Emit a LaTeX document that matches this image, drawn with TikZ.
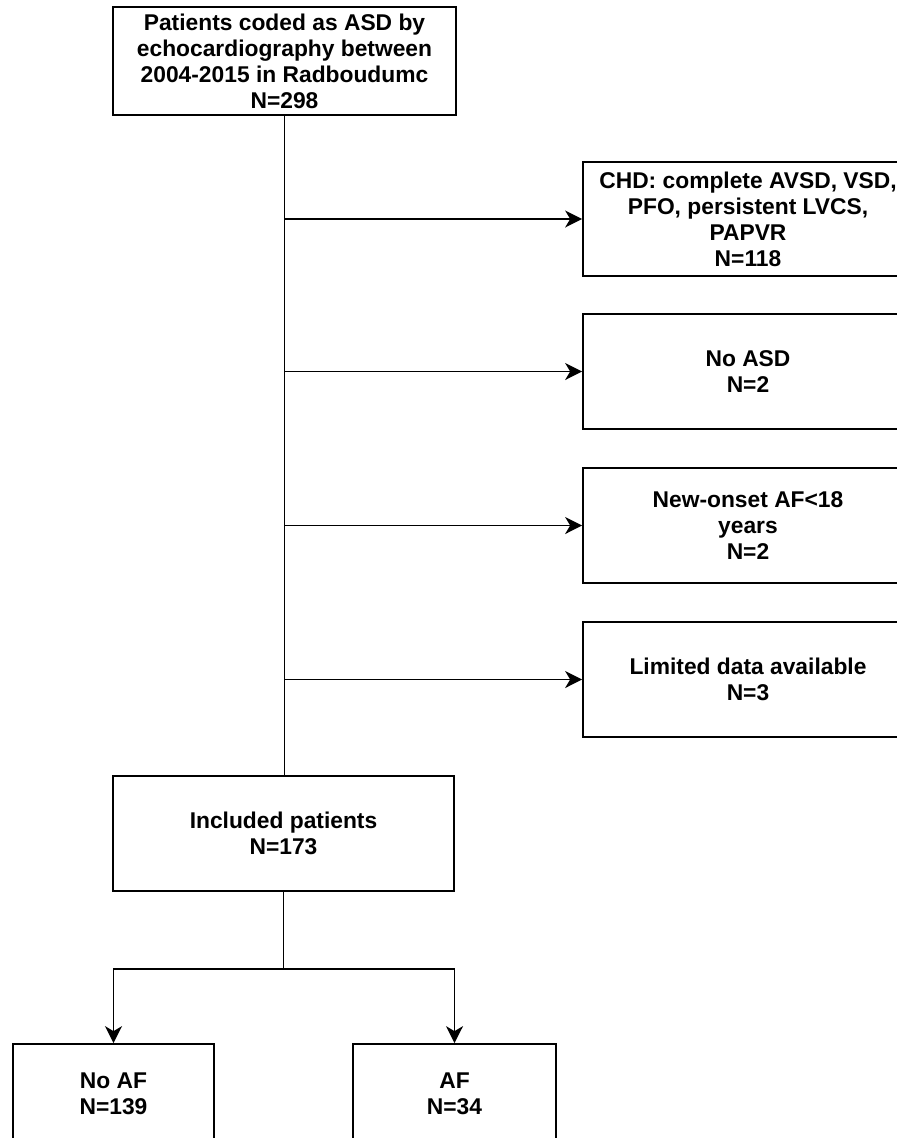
\documentclass[tikz,border=0pt]{standalone}
\usepackage{fontspec}
\setmainfont{Liberation Sans}
\usetikzlibrary{arrows.meta,calc}
\begin{document}
\begin{tikzpicture}[x=1pt,y=-1pt,
 box/.style={draw, line width=1.7pt, rectangle, align=center, inner sep=0pt,
   font=\fontsize{22.8}{26}\selectfont\bfseries},
 conn/.style={line width=1.7pt},
 arr/.style={conn, -{Stealth[length=17pt,width=17pt,inset=5pt]}}]
\useasboundingbox (0,0) rectangle (897,1138);
\node[box, minimum width=343pt, minimum height=108pt] (top) at (284.5,61)
  {Patients coded as ASD by\\echocardiography between\\2004-2015 in Radboudumc\\N=298};
\node[box, minimum width=330pt, minimum height=114pt] (r1) at (748,219)
  {CHD: complete AVSD, VSD,\\PFO, persistent LVCS,\\PAPVR\\N=118};
\node[box, minimum width=330pt, minimum height=115pt] (r2) at (748,371.5)
  {No ASD\\N=2};
\node[box, minimum width=330pt, minimum height=115pt] (r3) at (748,525.5)
  {New-onset AF<18\\years\\N=2};
\node[box, minimum width=330pt, minimum height=115pt] (r4) at (748,679.5)
  {Limited data available\\N=3};
\node[box, minimum width=341pt, minimum height=115pt] (inc) at (283.5,833.5)
  {Included patients\\N=173};
\node[box, minimum width=201pt, minimum height=100pt] (noaf) at (113.5,1094)
  {No AF\\N=139};
\node[box, minimum width=203pt, minimum height=100pt] (af) at (454.5,1094)
  {AF\\N=34};
\draw[conn] (top.south) -- (top.south |- inc.north);
\foreach \r in {r1,r2,r3,r4}
  \draw[arr] (top.south |- \r.west) -- (\r.west);
\coordinate (br) at ($(inc.south)+(0,77)$);
\draw[conn] (inc.south) -- (br);
\draw[arr] (br) -| (noaf.north);
\draw[arr] (br) -| (af.north);
\end{tikzpicture}
\end{document}
